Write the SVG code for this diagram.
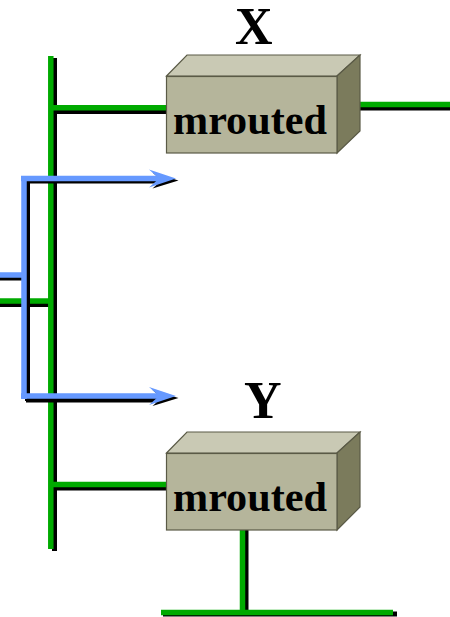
<svg xmlns="http://www.w3.org/2000/svg" width="450" height="617" viewBox="0 0 450 617">
<style>
.g{stroke:#00aa00;stroke-width:5.5;fill:none}
.k{stroke:#000;stroke-width:5;fill:none}
.b{stroke:#6699ff;stroke-width:5.5;fill:none}
.ka{fill:#000}.ba{fill:#6699ff}
.front{fill:#b5b59b;stroke:#5a5a46;stroke-width:1.2}
.top{fill:#c9c9b4;stroke:#5a5a46;stroke-width:1.2}
.side{fill:#7b7b5c;stroke:#5a5a46;stroke-width:1.2}
.lab{font-family:"Liberation Serif","Times New Roman",serif;font-weight:bold;fill:#000}
.m{font-size:42.200px}.t{font-size:52px}
</style>
<defs>
<path id="head" d="M0 0 L-27 -9 L-17 0 L-27 9 Z"/>
</defs>
<g id="connectors">
<path class="k" d="M54.500 58V551M52 111.500H167M360 108H450M0 304.500H50M52 488H167M246 530V614M163 614H397"/>
<path class="g" d="M50.800 56V549M50 107.800H167M360 104.500H450M0 301H50M50 484.500H167M242.500 530V612.500M161 612.500H393"/>
<path class="k" d="M0 278H24M27.500 181V401M26 181H160M26 400H160"/>
<path class="ka" transform="translate(178.500 180.500)" d="M0 0 L-26 -8 L-17 0 L-26 8 Z"/>
<path class="ka" transform="translate(178.500 398)" d="M0 0 L-26 -8 L-17 0 L-26 8 Z"/>
<path class="b" d="M0 275H24M24 176V399M21 178.500H160M21 396H160"/>
<use href="#head" class="ba" transform="translate(176 178.500)"/>
<use href="#head" class="ba" transform="translate(176 396)"/>
</g>
<g id="node-x">
<polygon class="top" points="166.500,76 187,55 360,55 337,76"/>
<polygon class="side" points="337,76 360,55 360,131 337,153"/>
<rect class="front" x="166.500" y="76.500" width="170.500" height="76.500"/>
<text class="lab m" x="173" y="134">mrouted</text>
<text class="lab t" x="235" y="44">X</text>
</g>
<g id="node-y">
<polygon class="top" points="166.500,453 187,432 360,432 337,453"/>
<polygon class="side" points="337,453 360,432 360,507 337,530"/>
<rect class="front" x="166.500" y="453.500" width="170.500" height="76.500"/>
<text class="lab m" x="173" y="511">mrouted</text>
<text class="lab t" x="244" y="418">Y</text>
</g>
</svg>
